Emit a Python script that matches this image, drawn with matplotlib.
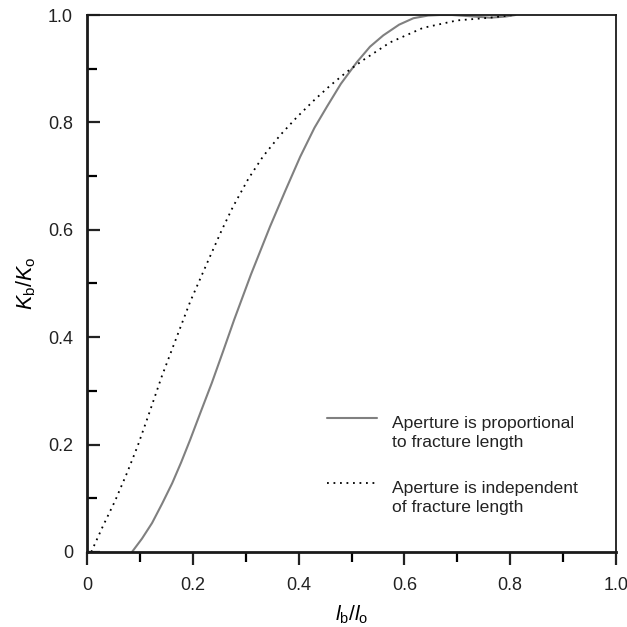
import matplotlib
matplotlib.use("Agg")
import matplotlib.pyplot as plt
from matplotlib.ticker import MultipleLocator, FixedLocator
from matplotlib.lines import Line2D

plt.rcParams['font.family'] = ['Liberation Sans', 'DejaVu Sans']
plt.rcParams['mathtext.fontset'] = 'custom'
plt.rcParams['mathtext.rm'] = 'Liberation Sans'
plt.rcParams['mathtext.it'] = 'Liberation Sans:italic'

# Data
prop_x = [0.085, 0.104, 0.123, 0.142, 0.161, 0.178, 0.195, 0.215, 0.236, 0.257, 0.278,
          0.31, 0.346, 0.375, 0.403, 0.43, 0.454, 0.48, 0.51, 0.535, 0.56, 0.59,
          0.617, 0.645, 0.667, 0.69, 0.72, 0.762, 0.79, 0.81]
prop_y = [0.0, 0.025, 0.054, 0.090, 0.128, 0.167, 0.209, 0.261, 0.315, 0.373, 0.432,
          0.517, 0.606, 0.673, 0.736, 0.79, 0.830, 0.872, 0.912, 0.941, 0.962, 0.982,
          0.994, 0.999, 1.0, 1.0, 0.998, 0.995, 0.997, 1.0]

indep_x = [0.008, 0.03, 0.053, 0.076, 0.096, 0.116, 0.141, 0.166, 0.195, 0.227, 0.255,
           0.276, 0.305, 0.333, 0.365, 0.397, 0.43, 0.459, 0.491, 0.522, 0.573, 0.635,
           0.70, 0.762, 0.806]
indep_y = [0.0, 0.048, 0.095, 0.148, 0.198, 0.254, 0.326, 0.391, 0.466, 0.538, 0.600,
           0.643, 0.695, 0.737, 0.776, 0.810, 0.842, 0.868, 0.894, 0.916, 0.949, 0.976,
           0.990, 0.995, 1.0]

labels = ["Aperture is proportional\nto fracture length",
          "Aperture is independent\nof fracture length"]
major_ticks = [0, 0.2, 0.4, 0.6, 0.8, 1.0]
tick_labels = ["0", "0.2", "0.4", "0.6", "0.8", "1.0"]

fig = plt.figure(figsize=(6.27, 6.27), dpi=100)
ax = fig.add_axes([87/627, 1-552/627, (616-87)/627, (552-15)/627])

solid_style = dict(color='#808080', lw=1.5, solid_capstyle='round')
dot_style = dict(color='black', lw=1.3, dashes=(1, 2.6))

ax.plot(prop_x, prop_y, **solid_style)
ax.plot(indep_x, indep_y, **dot_style)

ax.set_xlim(0, 1)
ax.set_ylim(0, 1)

ax.xaxis.set_major_locator(FixedLocator(major_ticks))
ax.yaxis.set_major_locator(FixedLocator(major_ticks))
ax.set_xticklabels(tick_labels)
ax.set_yticklabels(tick_labels)
ax.xaxis.set_minor_locator(MultipleLocator(0.1))
ax.yaxis.set_minor_locator(MultipleLocator(0.1))

ax.tick_params(axis='x', which='major', direction='out', length=9, width=1.6, pad=9, labelsize=13, colors='#222222')
ax.tick_params(axis='x', which='minor', direction='out', length=7, width=1.6)
ax.tick_params(axis='y', which='major', direction='in', length=9, width=1.6, pad=10, labelsize=13, colors='#222222')
ax.tick_params(axis='y', which='minor', direction='in', length=7, width=1.6)

for s in ['left', 'bottom']:
    ax.spines[s].set_linewidth(2.0)
    ax.spines[s].set_color('#1a1a1a')
for s in ['top', 'right']:
    ax.spines[s].set_linewidth(1.3)
    ax.spines[s].set_color('#1a1a1a')

ax.set_xlabel(r'$l_\mathrm{b}/l_\mathrm{o}$', fontsize=15, labelpad=7)
ax.set_ylabel(r'$K_\mathrm{b}/K_\mathrm{o}$', fontsize=15.5, labelpad=7)

# Legend (drawn manually to align handle with first text line)
ax.add_line(Line2D([0.4537, 0.548], [0.2495, 0.2495], transform=ax.transAxes, **solid_style))
ax.add_line(Line2D([0.4537, 0.548], [0.1285, 0.1285], transform=ax.transAxes, **dot_style))
ax.text(0.5766, 0.2535, labels[0], transform=ax.transAxes, fontsize=12.6,
        va='top', ha='left', linespacing=1.33, color='#222222')
ax.text(0.5766, 0.1325, labels[1], transform=ax.transAxes, fontsize=12.6,
        va='top', ha='left', linespacing=1.33, color='#222222')

fig.savefig('out.png', dpi=100)
